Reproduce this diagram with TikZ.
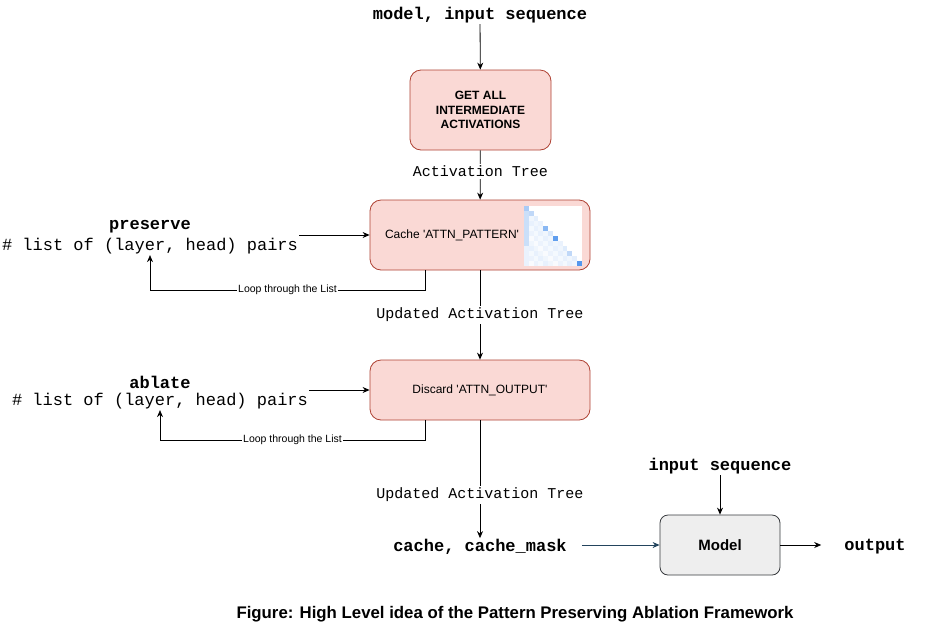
\documentclass[tikz,border=0pt]{standalone}
\usepackage{fontspec}
\setmainfont{Liberation Sans}
\setmonofont{Liberation Mono}
\usetikzlibrary{arrows.meta}
\definecolor{myfill}{HTML}{FAD9D5}
\definecolor{myred}{HTML}{AE4132}
\definecolor{mygray}{HTML}{EEEEEE}
\definecolor{mydark}{HTML}{36393D}
\definecolor{mynavy}{HTML}{23445D}
\definecolor{myheat}{HTML}{2B7DE9}

\begin{document}
\begin{tikzpicture}[
    x=1pt, y=-1pt, % one unit = one pixel, y grows downwards
    stage box/.style={draw=myred, fill=myfill, line width=0.8pt, rounded corners=11pt,
        align=center, font=\fontsize{12}{14.4}\selectfont},
    model box/.style={draw=mydark, fill=mygray, line width=0.8pt, rounded corners=8pt,
        font=\bfseries\fontsize{15}{18}\selectfont},
    code title/.style={font=\ttfamily\bfseries\fontsize{17}{20}\selectfont, inner sep=1pt},
    code text/.style={font=\ttfamily\fontsize{17}{20}\selectfont, inner sep=1pt},
    flow label/.style={font=\ttfamily\fontsize{15}{18}\selectfont, fill=white, inner sep=2pt},
    looptext/.style={font=\fontsize{10.5}{12}\selectfont, fill=white, inner sep=1pt},
    flow arrow/.style={line width=0.8pt, -{Stealth[length=7pt,width=6pt]}}
]
    \useasboundingbox (0,0) rectangle (950,630);

    % --- 1. MAIN PIPELINE BOXES ---
    \node[code title] (seqtop) at (480,15) {model, input sequence};
    \node[stage box, font=\bfseries\fontsize{12}{14.4}\selectfont,
          minimum width=141, minimum height=80] (getbox) at (480.5,110)
          {GET ALL\\INTERMEDIATE\\ACTIVATIONS};
    \node[stage box, minimum width=220, minimum height=70] (cachebox) at (480,235) {};
    \node[font=\fontsize{12}{14.4}\selectfont] (cachetext) at (452,235)
          {Cache \textquotesingle ATTN\_PATTERN\textquotesingle};
    \node[stage box, minimum width=220, minimum height=60] (discbox) at (480,390)
          {Discard \textquotesingle ATTN\_OUTPUT\textquotesingle};
    \node[model box, minimum width=120, minimum height=60] (modelbox) at (720,545) {Model};

    % Attention pattern thumbnail inside the cache box
    \begin{scope}[shift={(524,206)}]
        \fill[white] (0,0) rectangle (58,60);
        \foreach \i in {0,...,11}{
            \foreach \j in {0,...,\i}{
                \pgfmathtruncatemacro{\dv}{{40,30,12,10,55,18,75,10,15,30,12,80}[\i]}
                \pgfmathtruncatemacro{\cv}{ifthenelse(\i<8,25,10)}
                \pgfmathtruncatemacro{\v}{ifthenelse(\j==\i,\dv,ifthenelse(\j==0,\cv,mod(\i*7+\j*3,5)*2+3))}
                \fill[myheat!\v!white] ({\j*4.83},{\i*5}) rectangle ++(4.83,5);
            }
        }
    \end{scope}

    % --- 2. SIDE INPUTS AND OUTPUTS ---
    \node[code title] (presname) at (150,227) {preserve};
    \node[code text] (preslist) at (150,246) {\# list of (layer, head) pairs};
    \node[code title] (ablname) at (160,382) {ablate};
    \node[code text] (abllist) at (160,401) {\# list of (layer, head) pairs};
    \node[code title] (cachemask) at (480,547) {cache, cache\_mask};
    \node[code title] (seqright) at (720,466) {input sequence};
    \node[code title] (outtext) at (875,547) {output};

    \coordinate (presturn) at (425,290);
    \coordinate (ablturn) at (425,440);

    % --- 3. CONNECTORS ---
    \draw[flow arrow] (seqtop) -- (getbox);
    \draw[flow arrow] (getbox) -- node[flow label, pos=0.42] {Activation Tree} (cachebox);
    \draw[flow arrow] (preslist.east |- cachebox.west) -- (cachebox.west);
    \draw[flow arrow] (cachebox.south -| presturn) -- (presturn)
        -- node[looptext] {Loop through the List} (presturn -| preslist) -- (preslist.south);

    \draw[flow arrow] (cachebox) -- node[flow label] {Updated Activation Tree} (discbox);
    \draw[flow arrow] (abllist.east |- discbox.west) -- (discbox.west);
    \draw[flow arrow] (discbox.south -| ablturn) -- (ablturn)
        -- node[looptext] {Loop through the List} (ablturn -| abllist) -- (abllist.south);

    \draw[flow arrow] (discbox) -- node[flow label, pos=0.63] {Updated Activation Tree} (cachemask);
    \draw[flow arrow, color=mynavy, shorten <=14pt] (cachemask.east |- modelbox.west) -- (modelbox.west);
    \draw[flow arrow] (seqright) -- (modelbox);
    \draw[flow arrow, shorten >=22pt] (modelbox.east) -- (outtext.west |- modelbox.east);

    % Caption
    \node[font=\bfseries\fontsize{16.8}{19}\selectfont] (caption) at (515,614)
        {Figure: High Level idea of the Pattern Preserving Ablation Framework};
\end{tikzpicture}
\end{document}
